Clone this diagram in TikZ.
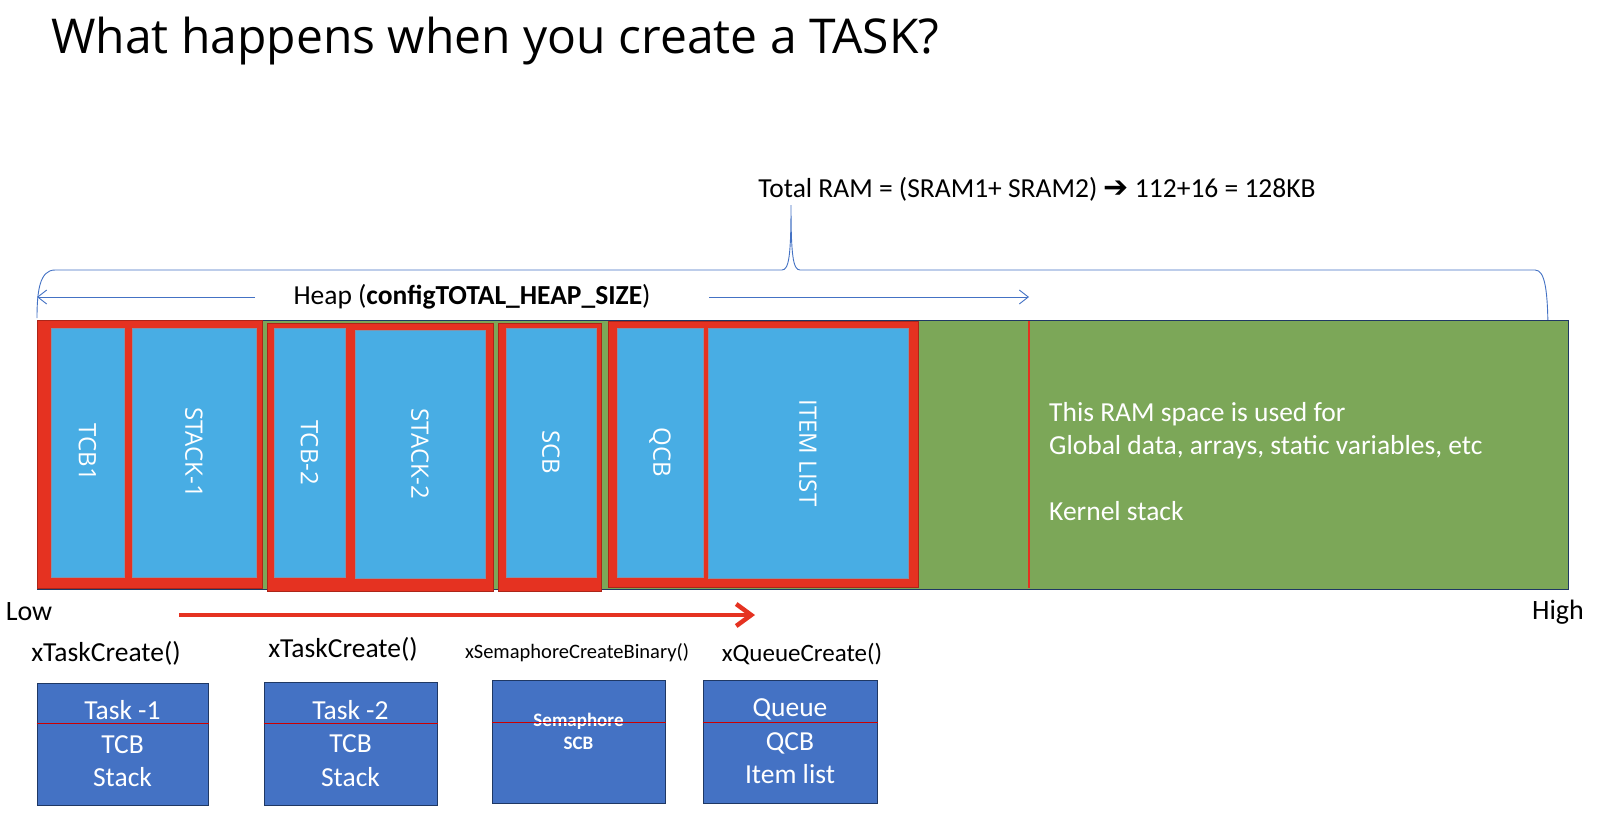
\documentclass[tikz,border=0pt]{standalone}
\usepackage{fontspec}
\usepackage{graphicx}
\setmainfont{Carlito}
\newfontfamily\titlefont{Open Sans}
\newfontfamily\segoe{Open Sans}
\newfontfamily\dejavu{DejaVu Sans}
\usetikzlibrary{arrows.meta}
\definecolor{skyblue}{RGB}{72,173,228}
\definecolor{ramred}{RGB}{229,50,33}
\definecolor{ramgreen}{RGB}{124,167,88}
\definecolor{boxblue}{RGB}{68,114,196}
\definecolor{navy}{RGB}{31,56,100}
\definecolor{braceblue}{RGB}{68,114,196}
\begin{document}
\begin{tikzpicture}[x=1pt,y=-1pt,
  ramregion/.style={draw=navy, line width=0.9pt, fill=ramgreen, inner sep=0pt},
  group/.style={fill=ramred, draw=ramred!75!black, line width=0.6pt, inner sep=0pt},
  mem/.style={fill=skyblue, draw=navy!55, line width=0.6pt, inner sep=0pt, text=white,
    font=\segoe\fontsize{24}{28}\selectfont},
  callbox/.style={fill=boxblue, draw=navy, line width=1pt, inner sep=0pt, text=white,
    font=\fontsize{27.5}{33.5}\selectfont, align=center},
  fn/.style={font=\fontsize{27.5}{32}\selectfont, text=black, inner sep=0pt},
  thinblue/.style={draw=braceblue, line width=0.9pt},
  divider/.style={draw=red!80!black, line width=0.8pt}
]
\useasboundingbox (0,0) rectangle (1600,817);
\fill[white] (0,0) rectangle (1600,817);

% title
\node[anchor=base west, inner sep=0pt, font=\titlefont\fontsize{48}{58}\selectfont] (title) at (51,53) {What happens when you create a TASK?};

% total RAM label and brace
\node[inner sep=0pt, font=\fontsize{27.5}{32}\selectfont] (total) at (1037,189)
  {Total RAM = (SRAM1+ SRAM2) {\dejavu\fontsize{30}{32}\selectfont ➔} 112+16 = 128KB};
\draw[thinblue] (37,318) .. controls (37,290) and (40,270) .. (55,270) -- (782,270)
  .. controls (789,270) and (791,255) .. (791,205)
  .. controls (791,255) and (793,270) .. (800,270) -- (1535,270)
  .. controls (1545,270) and (1548,290) .. (1548,336);

% heap arrows
\node[inner sep=0pt, font=\fontsize{27.5}{32}\selectfont] (heap) at (472,297) {Heap (\textbf{configTOTAL\_HEAP\_SIZE})};
\coordinate (hl1) at (255,297);
\coordinate (hl2) at (37,297);
\coordinate (hr1) at (709,297);
\coordinate (hr2) at (1029,297);
\draw[thinblue, -{Straight Barb[length=9pt,width=14pt]}] (hl1) -- (hl2);
\draw[thinblue, -{Straight Barb[length=9pt,width=14pt]}] (hr1) -- (hr2);

% RAM bar
\node[ramregion, minimum width=1531pt, minimum height=269pt] (ram) at (802.5,454.5) {};
\draw[ramred, line width=2.5pt] (1029,321) -- (1029,588);

\node[group, minimum width=225pt, minimum height=268pt] (g1) at (149.5,454) {};
\node[group, minimum width=226pt, minimum height=268pt] (g2) at (380,457) {};
\node[group, minimum width=103pt, minimum height=268pt] (g3) at (549.5,457) {};
\node[group, minimum width=310pt, minimum height=266pt] (g4) at (763,454) {};

\node[mem, minimum width=73pt, minimum height=249pt] (tcb1) at (87.5,452.5) {\rotatebox{-90}{TCB1}};
\node[mem, minimum width=124pt, minimum height=249pt] (stack1) at (194,452.5) {\rotatebox{-90}{STACK-1}};
\node[mem, minimum width=71pt, minimum height=249pt] (tcb2) at (309.5,452.5) {\rotatebox{-90}{TCB-2}};
\node[mem, minimum width=130pt, minimum height=248pt] (stack2) at (420,454) {\rotatebox{-90}{STACK-2}};
\node[mem, minimum width=90pt, minimum height=249pt] (scb) at (551,452.5) {\rotatebox{-90}{SCB}};
\node[mem, minimum width=86pt, minimum height=249pt] (qcb) at (660,452.5) {\rotatebox{-90}{QCB}};
\node[mem, minimum width=200pt, minimum height=250pt] (item) at (808,453) {\rotatebox{-90}{ITEM LIST}};

\node[anchor=west, inner sep=0pt, text=white, align=left, font=\fontsize{27.5}{33}\selectfont] (free) at (1049,462)
  {This RAM space is used for\\Global data, arrays, static variables, etc\\[33pt]Kernel stack};

% low / high and arrow
\node[fn, font=\fontsize{28}{32}\selectfont] (low) at (29,612) {Low};
\node[fn, font=\fontsize{28}{32}\selectfont] (high) at (1558,612) {High};
\coordinate (ga) at (179,615);
\coordinate (gb) at (755,615);
\draw[ramred, line width=4.5pt, -{Straight Barb[length=15pt,width=22pt]}] (ga) -- (gb);

% API calls
\node[fn] (fn1) at (106,653) {xTaskCreate()};
\node[fn] (fn2) at (343,649) {xTaskCreate()};
\node[fn, font=\fontsize{20.5}{24}\selectfont] (fn3) at (577,653) {xSemaphoreCreateBinary()};
\node[fn, font=\fontsize{25}{30}\selectfont] (fn4) at (802,654) {xQueueCreate()};

\node[callbox, minimum width=171pt, minimum height=122pt] (box1) at (122.5,744) {Task -1\\TCB\\Stack};
\node[callbox, minimum width=173pt, minimum height=123pt] (box2) at (350.5,743.5) {Task -2\\TCB\\Stack};
\node[callbox, minimum width=173pt, minimum height=123pt] (box3) at (578.5,741.5) {};
\node[callbox, minimum width=174pt, minimum height=123pt] (box4) at (790,741.5) {Queue\\QCB\\Item list};
\node[inner sep=0pt, text=white, align=center, font=\bfseries\fontsize{19}{23}\selectfont] (semtxt) at (578.5,731) {Semaphore\\SCB};

\coordinate (y1) at (0,723);
\coordinate (y2) at (0,722);
\draw[divider] (box1.west |- y1) -- (box1.east |- y1);
\draw[divider] (box2.west |- y1) -- (box2.east |- y1);
\draw[divider] (box3.west |- y2) -- (box3.east |- y2);
\draw[divider] (box4.west |- y2) -- (box4.east |- y2);
\end{tikzpicture}
\end{document}
